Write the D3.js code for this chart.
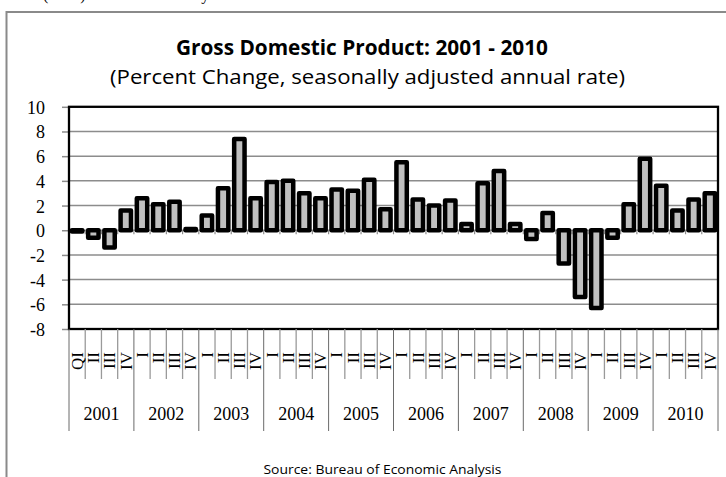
<!DOCTYPE html>
<html>
<head>
<meta charset="utf-8">
<script src="https://cdn.jsdelivr.net/npm/d3@7"></script>
<style>
  html, body { margin: 0; padding: 0; background: #fff; }
  svg { display: block; }
</style>
</head>
<body>
<svg id="chart" width="726" height="477"></svg>
<script>
// Real GDP, percent change at a seasonally adjusted annual rate, by quarter
const years = ["2001", "2002", "2003", "2004", "2005", "2006", "2007", "2008", "2009", "2010"];
const quarterLabels = [
  "QI", "II", "III", "IV",
  "I", "II", "III", "IV",
  "I", "II", "III", "IV",
  "I", "II", "III", "IV",
  "I", "II", "III", "IV",
  "I", "II", "III", "IV",
  "I", "II", "III", "IV",
  "I", "II", "III", "IV",
  "I", "II", "III", "IV",
  "I", "II", "III", "IV"
];
const gdpChange = [
  -0.1, -0.6, -1.4, 1.6,
  2.6, 2.1, 2.3, 0.1,
  1.2, 3.4, 7.4, 2.6,
  3.9, 4.0, 3.0, 2.6,
  3.3, 3.2, 4.1, 1.7,
  5.5, 2.5, 2.0, 2.4,
  0.5, 3.8, 4.8, 0.5,
  -0.7, 1.4, -2.7, -5.4,
  -6.3, -0.6, 2.1, 5.8,
  3.6, 1.6, 2.5, 3.0
];
const yTicks = [10, 8, 6, 4, 2, 0, -2, -4, -6, -8];

const titleText = "Gross Domestic Product: 2001 - 2010";
const subtitleText = "(Percent Change, seasonally adjusted annual rate)";
const sourceText = "Source: Bureau of Economic Analysis";

const svg = d3.select("#chart");
const serif = "'Liberation Serif', 'Times New Roman', serif";
const sans = "'Open Sans', 'Noto Sans', sans-serif";

// Last line of the running document text above the chart frame
svg.append("text")
  .attr("x", 43).attr("y", 0)
  .attr("font-family", serif).attr("font-size", 16)
  .attr("fill", "#000")
  .text("(BEA) as released in May");

// Chart frame
svg.append("rect")
  .attr("x", 6.5).attr("y", 12)
  .attr("width", 800).attr("height", 600)
  .attr("fill", "none").attr("stroke", "#8a8a8a").attr("stroke-width", 2);

// Titles
svg.append("text")
  .attr("x", 362).attr("y", 55)
  .attr("text-anchor", "middle")
  .attr("font-family", sans).attr("font-weight", "bold").attr("font-size", 21)
  .attr("textLength", 372).attr("lengthAdjust", "spacingAndGlyphs")
  .text(titleText);

svg.append("text")
  .attr("x", 367.5).attr("y", 84)
  .attr("text-anchor", "middle")
  .attr("font-family", sans).attr("font-size", 20)
  .attr("textLength", 515).attr("lengthAdjust", "spacingAndGlyphs")
  .text(subtitleText);

svg.append("text")
  .attr("x", 382.5).attr("y", 474)
  .attr("text-anchor", "middle")
  .attr("font-family", sans).attr("font-size", 12)
  .attr("textLength", 238).attr("lengthAdjust", "spacingAndGlyphs")
  .text(sourceText);

// Plot area
const plot = { left: 69, right: 718, top: 106.8, bottom: 329 };

const x = d3.scaleBand()
  .domain(d3.range(gdpChange.length))
  .range([plot.left, plot.right])
  .paddingInner(0).paddingOuter(0);

const y = d3.scaleLinear()
  .domain([-8, 10])
  .range([plot.bottom, plot.top]);

// Horizontal gridlines
svg.append("g")
  .selectAll("line")
  .data(yTicks)
  .join("line")
  .attr("x1", plot.left).attr("x2", plot.right)
  .attr("y1", d => y(d)).attr("y2", d => y(d))
  .attr("stroke", "#8c8c8c").attr("stroke-width", 1.5);

// Y axis ticks and labels (plain hyphen for negatives)
const yAxis = d3.axisLeft(y)
  .tickValues(yTicks)
  .tickSize(7)
  .tickPadding(17)
  .tickFormat(d => String(d));

const yg = svg.append("g")
  .attr("transform", `translate(${plot.left},0)`)
  .call(yAxis);
yg.select(".domain").remove();
yg.selectAll(".tick line").attr("stroke", "#8c8c8c").attr("stroke-width", 1.5);
yg.selectAll(".tick text")
  .attr("font-family", serif).attr("font-size", 18)
  .attr("fill", "#000")
  .attr("dy", "0.36em");

// Small tick marks on the zero line at each quarter boundary
const boundaries = d3.range(gdpChange.length + 1).map(i =>
  i < gdpChange.length ? x(i) : x(gdpChange.length - 1) + x.bandwidth());

svg.append("g")
  .selectAll("line")
  .data(boundaries)
  .join("line")
  .attr("x1", d => d).attr("x2", d => d)
  .attr("y1", y(0)).attr("y2", y(0) + 4)
  .attr("stroke", "#8c8c8c").attr("stroke-width", 1.2);

// Bars
const barWidth = x.bandwidth() * 0.64;
svg.append("g")
  .selectAll("rect")
  .data(gdpChange)
  .join("rect")
  .attr("x", (d, i) => x(i) + (x.bandwidth() - barWidth) / 2)
  .attr("y", d => y(Math.max(0, d)))
  .attr("width", barWidth)
  .attr("height", d => Math.abs(y(d) - y(0)))
  .attr("fill", "#c0c0c0")
  .attr("stroke", "#000")
  .attr("stroke-width", 4.5)
  .attr("stroke-linejoin", "round");

// Plot border
svg.append("rect")
  .attr("x", plot.left).attr("y", plot.top)
  .attr("width", plot.right - plot.left)
  .attr("height", plot.bottom - plot.top)
  .attr("fill", "none").attr("stroke", "#000").attr("stroke-width", 2.3);

// Two-level category axis: quarters, then years
const quarterLineEnd = 379;
const yearLineEnd = 431;

svg.append("g")
  .selectAll("line")
  .data(boundaries.filter((d, i) => i % 4 !== 0))
  .join("line")
  .attr("x1", d => d).attr("x2", d => d)
  .attr("y1", plot.bottom).attr("y2", quarterLineEnd)
  .attr("stroke", "#9a9a9a").attr("stroke-width", 1.3);

svg.append("g")
  .selectAll("line")
  .data(boundaries.filter((d, i) => i % 4 === 0))
  .join("line")
  .attr("x1", d => d).attr("x2", d => d)
  .attr("y1", plot.bottom).attr("y2", yearLineEnd)
  .attr("stroke", "#6a6a6a").attr("stroke-width", 1);

svg.append("g")
  .selectAll("text")
  .data(quarterLabels)
  .join("text")
  .attr("transform", (d, i) => `translate(${x(i) + x.bandwidth() / 2},352) rotate(-90)`)
  .attr("text-anchor", "end")
  .attr("dy", "0.34em")
  .attr("font-family", serif).attr("font-size", 17)
  .attr("fill", "#000")
  .text(d => d);

svg.append("g")
  .selectAll("text")
  .data(years)
  .join("text")
  .attr("x", (d, i) => (x(i * 4) + x(i * 4 + 3) + x.bandwidth()) / 2)
  .attr("y", 420)
  .attr("text-anchor", "middle")
  .attr("font-family", serif).attr("font-size", 18)
  .attr("fill", "#000")
  .text(d => d);
</script>
</body>
</html>
